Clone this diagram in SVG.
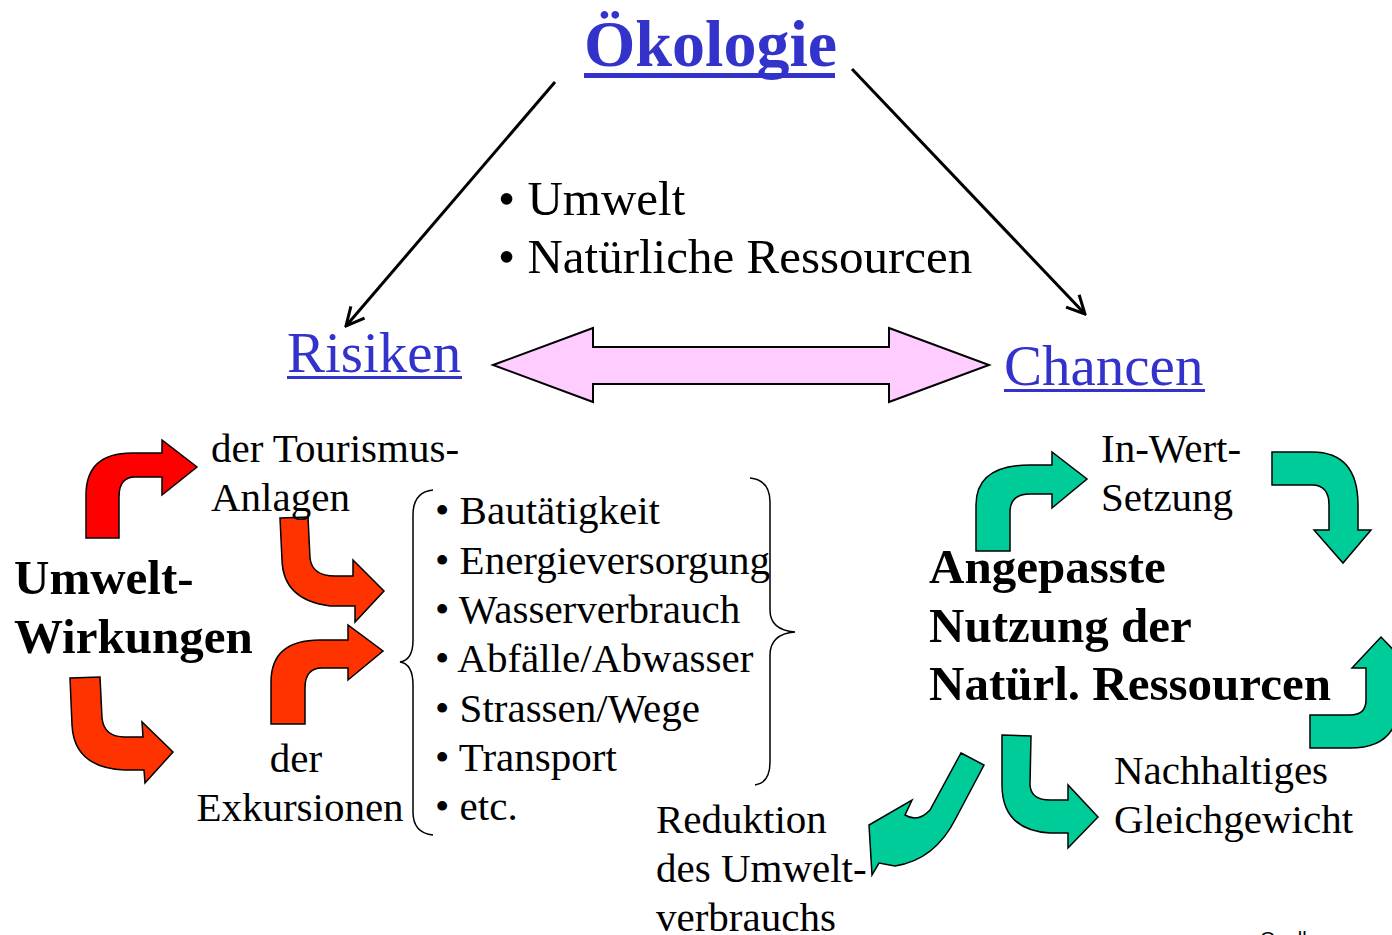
<svg xmlns="http://www.w3.org/2000/svg" width="1392" height="935" viewBox="0 0 1392 935">
<style>
.t{font-family:"Liberation Serif","Times New Roman",serif;fill:#000}
.n{font-size:41px}
.b{font-size:49px;font-weight:bold}
.h{fill:#3333CC}
.ln{stroke:#000;stroke-width:3;fill:none}
.blk{stroke:#000;stroke-width:1.5}
.red{fill:#FF0000}
.org{fill:#FF3300}
.grn{fill:#00CC99}
.brace{stroke:#000;stroke-width:1.5;fill:none}
</style>
<defs>
<marker id="ah" viewBox="0 0 22 22" refX="20" refY="11" markerWidth="22" markerHeight="22" markerUnits="userSpaceOnUse" orient="auto">
<path d="M2,2 L20,11 L2,20" fill="none" stroke="#000" stroke-width="3"/>
</marker>
</defs>
<rect width="1392" height="935" fill="#fff"/>

<g id="connectors">
<line class="ln" x1="555" y1="82" x2="346" y2="326" marker-end="url(#ah)"/>
<line class="ln" x1="852" y1="69" x2="1085" y2="314" marker-end="url(#ah)"/>
<polygon id="double-arrow" points="493,365 593,328 593,347 889,347 889,328 989,365 889,402 889,384 593,384 593,402" fill="#FFCCFF" stroke="#000" stroke-width="2"/>
<path class="red blk" d="M86,538 L86,495 Q86,453 132,453 L162,453 L162,440 L197,467 L162,495 L162,477 L135,477 Q119,477 119,497 L119,538 Z"/>
<path class="org blk" d="M280,518 L308,517 L310,558 Q312,576 335,576 L353,576 L353,560 L384,591 L355,622 L355,606 L330,606 Q283,600 282,560 Z"/>
<path class="org blk" d="M271,724 L271,682 Q271,640 320,640 L348,640 L348,625 L383,651 L348,680 L348,668 L322,668 Q305,668 305,688 L305,724 Z"/>
<path class="org blk" d="M70,678 L100,677 L102,718 Q104,737 125,737 L143,737 L142,722 L173,752 L145,783 L144,770 L125,770 Q74,768 72,725 Z"/>
<path class="grn blk" d="M976,551 L976,505 Q976,465 1030,465 L1052,465 L1052,452 L1087,479 L1052,508 L1052,494 L1030,494 Q1010,494 1010,512 L1010,551 Z"/>
<path class="grn blk" d="M1272,452 L1312,452 Q1358,452 1358,505 L1358,530 L1371,530 L1343,563 L1314,530 L1329,530 L1329,505 Q1329,485 1312,485 L1272,485 Z"/>
<path class="grn blk" d="M1310,748 L1350,748 Q1399,748 1399,700 L1399,668 L1411,668 L1381,637 L1352,668 L1366,668 L1366,700 Q1366,715 1350,715 L1310,715 Z"/>
<path class="grn blk" d="M1002,735 L1031,736 L1030,785 Q1031,800 1050,800 L1068,800 L1068,785 L1098,817 L1068,848 L1068,833 L1050,833 Q1002,830 1002,785 Z"/>
<path class="grn blk" d="M961,753 L984,765 L956,818 Q935,860 895,866 L879,863 L872,875 L869,825 L912,800 L905,815 Q918,823 930,810 Z"/>
<path class="brace" d="M433,490 Q413,492 413,515 L413,640 Q413,660 400,662 Q413,664 413,685 L413,812 Q413,833 433,835"/>
<path class="brace" d="M750,478 Q770,480 770,502 L770,610 Q770,630 795,632 Q770,634 770,655 L770,762 Q770,783 755,785"/>
</g>

<g id="oekologie">
<text class="t h" x="584" y="66" font-size="66" font-weight="bold">Ökologie</text>
<rect x="584" y="73" width="251" height="5" fill="#3333CC"/>
</g>
<g id="umwelt-list">
<text class="t" x="498" y="215" font-size="49">• Umwelt</text>
<text class="t" x="498" y="273" font-size="49">• Natürliche Ressourcen</text>
</g>
<g id="risiken">
<text class="t h" x="287" y="372" font-size="57">Risiken</text>
<rect x="287" y="376" width="175" height="3" fill="#3333CC"/>
</g>
<g id="chancen">
<text class="t h" x="1004" y="385" font-size="57">Chancen</text>
<rect x="1004" y="389" width="201" height="3" fill="#3333CC"/>
</g>
<g id="umweltwirkungen">
<text class="t b" x="14" y="594">Umwelt-</text>
<text class="t b" x="14" y="653">Wirkungen</text>
</g>
<g id="tourismus">
<text class="t n" x="211" y="462">der Tourismus-</text>
<text class="t n" x="211" y="511">Anlagen</text>
</g>
<g id="exkursionen">
<text class="t n" x="296" y="772" text-anchor="middle">der</text>
<text class="t n" x="300" y="821" text-anchor="middle">Exkursionen</text>
</g>
<g id="bullets">
<text class="t n" x="435" y="524">• Bautätigkeit</text>
<text class="t n" x="435" y="574">• Energieversorgung</text>
<text class="t n" x="435" y="623">• Wasserverbrauch</text>
<text class="t n" x="435" y="672">• Abfälle/Abwasser</text>
<text class="t n" x="435" y="722">• Strassen/Wege</text>
<text class="t n" x="435" y="771">• Transport</text>
<text class="t n" x="435" y="820">• etc.</text>
</g>
<g id="reduktion">
<text class="t n" x="656" y="833">Reduktion</text>
<text class="t n" x="656" y="882">des Umwelt-</text>
<text class="t n" x="656" y="931">verbrauchs</text>
</g>
<g id="inwert">
<text class="t n" x="1101" y="462">In-Wert-</text>
<text class="t n" x="1101" y="511">Setzung</text>
</g>
<g id="angepasste">
<text class="t b" x="929" y="583">Angepasste</text>
<text class="t b" x="929" y="642">Nutzung der</text>
<text class="t b" x="929" y="700">Natürl. Ressourcen</text>
</g>
<g id="nachhaltiges">
<text class="t n" x="1114" y="784">Nachhaltiges</text>
<text class="t n" x="1114" y="833">Gleichgewicht</text>
</g>
<g id="quelle">
<text x="1260" y="946" font-family="Liberation Sans, Arial, sans-serif" font-size="20">Quelle:</text>
</g>
</svg>
